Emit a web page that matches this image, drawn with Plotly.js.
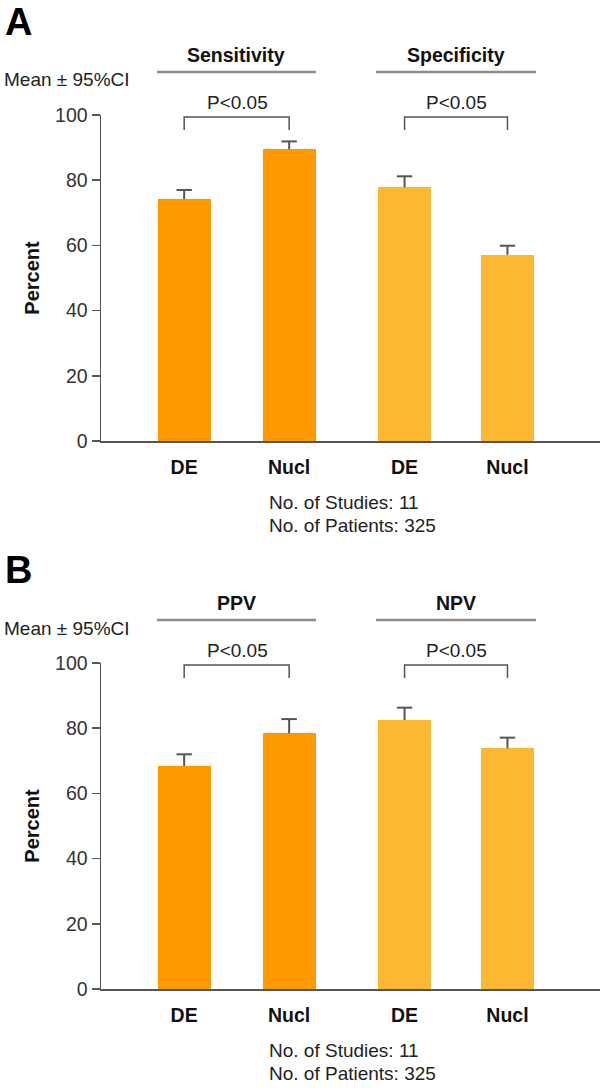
<!DOCTYPE html>
<html>
<head>
<meta charset="utf-8">
<script src="https://cdn.plot.ly/plotly-3.0.1.min.js"></script>
<style>html,body{margin:0;padding:0;background:#fff;}#chart{width:600px;height:1088px;}</style>
</head>
<body>
<div id="chart"></div>
<script>
// ---- data ----
const methods = ['DE', 'Nucl'];
const panelA = ['Sensitivity', 'Specificity'];
const panelB = ['PPV', 'NPV'];
const sensitivity = [74.2, 89.5];
const sensitivityCI = [2.8, 2.4];
const specificity = [77.8, 57.1];
const specificityCI = [3.4, 2.8];
const ppv = [68.4, 78.4];
const ppvCI = [3.6, 4.4];
const npv = [82.5, 73.8];
const npvCI = [3.8, 3.3];
const yTicks = [0, 20, 40, 60, 80, 100];
const pLabel = 'P<0.05';
const noteLines = ['No. of Studies: 11', 'No. of Patients: 325'];

// ---- layout helpers ----
const W = 600, H = 1088;
const px = p => p / W;
const py = p => 1 - p / H;
const slots = [0.8, 1.81, 2.92, 3.91];   // x slot of each bar on the numeric axis
const FONT = 'Liberation Sans, Arial, Helvetica, sans-serif';
const colA = '#FF9900', colB = '#FDB833';
const axisCol = '#555';

function barTraces(xs, ys, ci, color, xa, ya, name) {
  return [{
    type: 'bar', name: name, x: xs, y: ys, width: 0.51,
    marker: {color: color, line: {width: 0}},
    xaxis: xa, yaxis: ya, hoverinfo: 'x+y'
  }, {
    // upper half of the 95% CI: stem from the bar top plus a cap
    type: 'scatter', mode: 'markers', name: name + ' CI', x: xs,
    y: ys.map((v, i) => v + ci[i]),
    marker: {symbol: 'line-ew-open', size: 11, color: axisCol, line: {color: axisCol, width: 2}},
    error_y: {type: 'data', symmetric: false, array: ci.map(() => 0), arrayminus: ci,
              color: axisCol, thickness: 2, width: 0},
    xaxis: xa, yaxis: ya, hoverinfo: 'skip'
  }];
}

const data = [].concat(
  barTraces([slots[0], slots[1]], sensitivity, sensitivityCI, colA, 'x', 'y', panelA[0]),
  barTraces([slots[2], slots[3]], specificity, specificityCI, colB, 'x', 'y', panelA[1]),
  barTraces([slots[0], slots[1]], ppv, ppvCI, colA, 'x2', 'y2', panelB[0]),
  barTraces([slots[2], slots[3]], npv, npvCI, colB, 'x2', 'y2', panelB[1])
);

function xAxis(anchor) {
  return {
    domain: [px(101), 1], range: [0, 4.8], anchor: anchor,
    tickvals: slots, ticktext: methods.concat(methods).map(t => '<b>' + t + '</b>'),
    tickfont: {family: FONT, size: 19.5, color: '#111'}, ticks: '', ticklabelstandoff: 8,
    showline: true, linecolor: axisCol, linewidth: 1.5,
    showgrid: false, zeroline: false, fixedrange: true
  };
}
function yAxis(anchor, top, bottom) {
  return {
    domain: [py(bottom), py(top)], range: [0, 100], anchor: anchor,
    tickvals: yTicks, ticks: 'outside', ticklen: 8, tickwidth: 1.5, tickcolor: axisCol,
    tickfont: {family: FONT, size: 19.5, color: '#333'},
    showline: true, linecolor: axisCol, linewidth: 1.5,
    showgrid: false, zeroline: false, fixedrange: true,
    title: {text: '<b>Percent</b>', font: {family: FONT, size: 20, color: '#111'}, standoff: 10}
  };
}

const annotations = [];
const shapes = [];
function panel(letter, off, titles, xa) {
  const txt = (text, x, y, opts) => annotations.push(Object.assign({
    text: text, xref: 'paper', yref: 'paper', x: px(x), y: py(y + off),
    xanchor: 'center', yanchor: 'middle', showarrow: false,
    font: {family: FONT, size: 19, color: '#222'}
  }, opts || {}));
  txt('<b>' + letter + '</b>', 3, 22, {xanchor: 'left', font: {family: FONT, size: 38, color: '#000'}});
  txt('Mean ± 95%CI', 2, 80, {xanchor: 'left'});
  txt('<b>' + titles[0] + '</b>', 236, 55, {font: {family: FONT, size: 19.5, color: '#111'}});
  txt('<b>' + titles[1] + '</b>', 456, 55, {font: {family: FONT, size: 19.5, color: '#111'}});
  txt(pLabel, 237, 102);
  txt(pLabel, 456, 102);
  txt(noteLines[0], 267, 502, {xanchor: 'left'});
  txt(noteLines[1], 267, 525, {xanchor: 'left'});
  [[157, 316], [376, 536]].forEach(([a, b]) => shapes.push({
    type: 'line', xref: 'paper', yref: 'paper', x0: px(a), x1: px(b), y0: py(72 + off), y1: py(72 + off),
    line: {color: '#8c8c8c', width: 2.5}
  }));
  [[slots[0], slots[1]], [slots[2], slots[3]]].forEach(([a, b]) => shapes.push({
    type: 'path', xref: xa, yref: 'paper',
    path: `M ${a},${py(130 + off)} L ${a},${py(117 + off)} L ${b},${py(117 + off)} L ${b},${py(130 + off)}`,
    line: {color: axisCol, width: 1.5}
  }));
}
panel('A', 0, panelA, 'x');
panel('B', 548, panelB, 'x2');

const layout = {
  width: W, height: H, margin: {l: 0, r: 0, t: 0, b: 0},
  paper_bgcolor: '#fff', plot_bgcolor: '#fff', showlegend: false, bargap: 0,
  font: {family: FONT},
  xaxis: xAxis('y'), yaxis: yAxis('x', 115, 441),
  xaxis2: xAxis('y2'), yaxis2: yAxis('x2', 663, 989),
  annotations: annotations, shapes: shapes
};
Plotly.newPlot('chart', data, layout, {displayModeBar: false, staticPlot: true});
</script>
</body>
</html>
